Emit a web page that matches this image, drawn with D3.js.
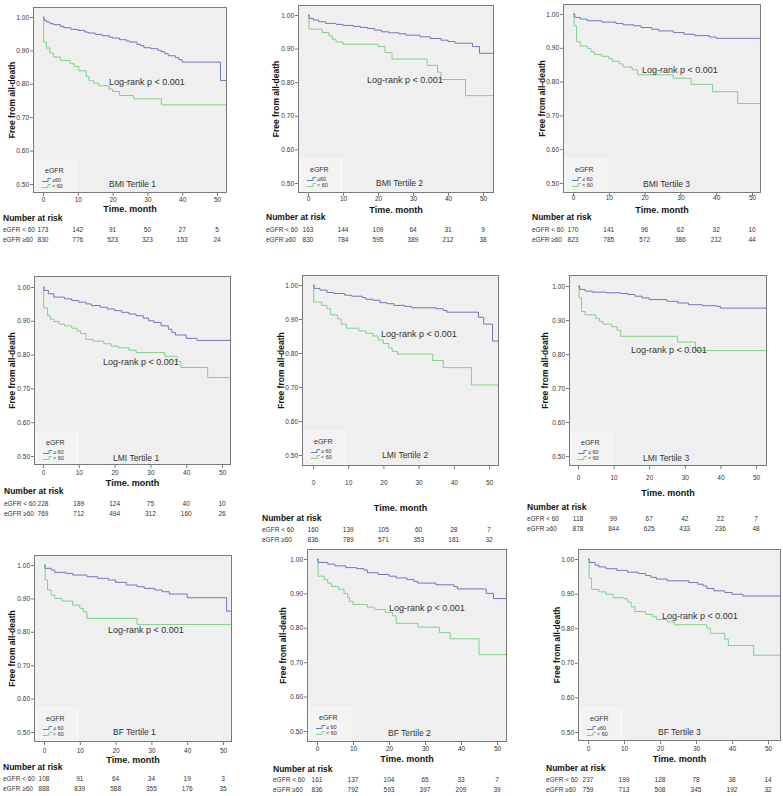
<!DOCTYPE html>
<html><head><meta charset="utf-8">
<script src="https://cdn.jsdelivr.net/npm/d3@7"></script>
<style>
body{margin:0;background:#fff;}
svg{display:block;font-family:"Liberation Sans",Arial,sans-serif;}
</style></head>
<body><svg id="c" width="783" height="796"></svg>
<script>
// ---------- DATA ----------
const panelTitles = ["BMI Tertile 1","BMI Tertile 2","BMI Tertile 3","LMI Tertile 1","LMI Tertile 2","LMI Tertile 3","BF Tertile 1","BF Tertile 2","BF Tertile 3"];
const xTicks = [0,10,20,30,40,50];
const yTicks = [0.5,0.6,0.7,0.8,0.9,1.0];
const legendHiLabels = ["≥60","≥60","≥ 60","≥ 60","≥ 60","≥ 60","≥ 60","≥ 60","≥60"];
const rowLabels = ["eGFR < 60","eGFR ≥60"];

// survival steps [month, survival], eGFR >= 60 (blue)
const bmi1Hi = [[0,1],[0.3,0.99],[1,0.985],[2,0.98],[3,0.977],[5,0.972],[6,0.968],[8,0.963],[10,0.96],[12,0.955],[13,0.952],[15,0.948],[17,0.944],[19,0.94],[20,0.937],[22,0.932],[24,0.928],[25,0.925],[27,0.918],[28,0.914],[29,0.908],[31,0.905],[33,0.9],[34,0.896],[35,0.89],[36,0.884],[38,0.878],[39,0.872],[40,0.865],[51,0.81]];
const bmi2Hi = [[0,1],[0.3,0.99],[1.5,0.985],[3,0.98],[5,0.975],[8,0.972],[10,0.969],[13,0.966],[15,0.963],[17,0.96],[19,0.955],[21,0.95],[23,0.947],[26,0.944],[28,0.94],[32,0.935],[35,0.93],[38,0.925],[40,0.921],[42,0.916],[47,0.906],[49,0.886]];
const bmi3Hi = [[0,1],[0.5,0.99],[2,0.985],[4,0.98],[8,0.976],[12,0.972],[14,0.968],[17,0.965],[19,0.96],[22,0.955],[24,0.95],[28,0.945],[31,0.94],[34,0.936],[38,0.932],[40,0.928]];
const lmi1Hi = [[0,1],[0.3,0.99],[1.5,0.98],[3,0.97],[6,0.965],[8,0.96],[10,0.955],[12,0.95],[13.5,0.945],[16,0.94],[18,0.935],[20,0.93],[22,0.925],[24,0.92],[26,0.915],[28,0.908],[29.5,0.9],[31,0.895],[33,0.885],[35,0.875],[36,0.865],[37,0.858],[40,0.848],[43,0.842]];
const lmi2Hi = [[0,1],[0.3,0.99],[2,0.985],[4,0.978],[6,0.975],[9,0.97],[11,0.967],[14,0.963],[15,0.958],[17,0.955],[19,0.948],[21,0.945],[23,0.94],[26,0.937],[28,0.933],[35,0.93],[37,0.925],[38,0.92],[47,0.905],[48.5,0.885],[51,0.835]];
const lmi3Hi = [[0,1],[0.5,0.99],[2,0.985],[4,0.982],[8,0.98],[12,0.978],[14,0.975],[16,0.97],[18,0.965],[20,0.96],[25,0.955],[28,0.95],[31,0.945],[35,0.942],[39,0.94],[40,0.935]];
const bf1Hi = [[0,1],[0.3,0.99],[2,0.985],[3,0.978],[6,0.975],[8,0.97],[12,0.965],[15,0.96],[18,0.955],[20,0.948],[23,0.94],[26,0.935],[28,0.93],[31,0.925],[33,0.92],[35,0.913],[40,0.902],[51,0.862]];
const bf2Hi = [[0,1],[0.3,0.99],[3,0.985],[5,0.98],[8,0.975],[11,0.972],[13,0.968],[14,0.96],[17,0.955],[20,0.95],[22,0.945],[25,0.94],[27,0.935],[28,0.93],[33,0.925],[38,0.92],[39,0.913],[47,0.9],[49,0.885]];
const bf3Hi = [[0,1],[0.3,0.99],[2,0.982],[3,0.977],[5,0.972],[8,0.967],[11,0.962],[14,0.958],[16,0.952],[17.5,0.947],[19,0.942],[22,0.937],[28,0.932],[30.5,0.927],[32,0.922],[33,0.915],[35,0.908],[38,0.903],[40,0.898],[43,0.893]];

// eGFR < 60 (green)
const bmi1Lo = [[0,1],[0.2,0.925],[1,0.907],[2,0.892],[3,0.88],[5,0.87],[7.8,0.86],[9,0.852],[10.3,0.839],[12.4,0.822],[13.2,0.809],[14.5,0.802],[16,0.794],[19,0.784],[20,0.777],[22,0.765],[26,0.755],[34,0.737]];
const bmi2Lo = [[0,1],[0.3,0.958],[4,0.948],[6,0.938],[7,0.928],[8,0.92],[10,0.913],[20,0.906],[22,0.888],[24,0.869],[34,0.85],[37,0.83],[38,0.808],[45,0.76]];
const bmi3Lo = [[0,1],[0.3,0.965],[1,0.918],[2,0.905],[4,0.898],[5,0.888],[6,0.88],[8,0.875],[10,0.868],[11,0.86],[13,0.852],[14,0.843],[16.5,0.835],[18,0.82],[28,0.81],[33,0.792],[39,0.77],[46,0.735]];
const lmi1Lo = [[0,1],[0.2,0.938],[1.3,0.915],[2,0.905],[3,0.898],[4.5,0.89],[6,0.885],[8,0.878],[9.5,0.87],[10.5,0.862],[12,0.845],[14,0.84],[17,0.832],[19,0.825],[21,0.82],[24,0.813],[26,0.806],[34,0.795],[37.5,0.78],[38.5,0.762],[46,0.732]];
const lmi2Lo = [[0,1],[0.2,0.95],[2.5,0.94],[4,0.93],[5,0.912],[7,0.9],[8,0.885],[9.5,0.873],[13,0.865],[15,0.858],[17,0.85],[18.5,0.838],[20,0.828],[21.5,0.815],[22.5,0.805],[24,0.797],[34,0.778],[37,0.757],[45,0.706]];
const lmi3Lo = [[0,1],[0.3,0.965],[1,0.925],[2,0.915],[5,0.905],[6,0.896],[7,0.888],[9.5,0.88],[11,0.87],[12,0.852],[28,0.835],[33,0.81]];
const bf1Lo = [[0,1],[0.3,0.955],[1,0.925],[2,0.91],[3,0.9],[5,0.892],[8,0.88],[10,0.87],[11,0.86],[12,0.84],[26,0.822]];
const bf2Lo = [[0,1],[0.3,0.95],[2,0.94],[3,0.93],[4,0.92],[6,0.912],[7.5,0.9],[8.5,0.888],[9,0.877],[10,0.868],[14,0.86],[16,0.853],[19,0.845],[21,0.835],[22,0.813],[28,0.802],[34,0.786],[37,0.768],[45,0.722]];
const bf3Lo = [[0,1],[0.3,0.945],[1,0.912],[3,0.905],[5,0.898],[7,0.888],[10,0.885],[11,0.876],[12,0.862],[13,0.848],[16,0.84],[18,0.833],[19,0.825],[22,0.818],[24,0.81],[33,0.8],[34,0.785],[38,0.768],[39,0.75],[46,0.722]];

// numbers at risk at months 0,10,20,30,40,50
const riskLo = [[173,142,91,50,27,5],[163,144,109,64,31,9],[170,141,96,62,32,10],[228,189,124,75,40,10],[160,139,105,60,28,7],[118,99,67,42,22,7],[108,91,64,34,19,3],[161,137,104,65,33,7],[237,199,128,78,38,14]];
const riskHi = [[830,776,523,323,153,24],[830,784,595,389,212,38],[823,785,572,386,212,44],[769,712,494,312,160,26],[836,789,571,353,181,32],[878,844,625,433,236,48],[888,839,588,355,176,35],[836,792,593,397,209,39],[759,713,508,345,192,32]];

const seriesHi = [bmi1Hi,bmi2Hi,bmi3Hi,lmi1Hi,lmi2Hi,lmi3Hi,bf1Hi,bf2Hi,bf3Hi];
const seriesLo = [bmi1Lo,bmi2Lo,bmi3Lo,lmi1Lo,lmi2Lo,lmi3Lo,bf1Lo,bf2Lo,bf3Lo];

// ---------- LAYOUT (pixels) ----------
const layout = [
 {L:33,T:7,R:227,B:193,x0:43,x50:217,y1:17,y05:184,tl:202,tt:212,nar:221,r1:232,r2:242,lx:3,lrx:109,lry:85,tix:109,tiy:187,yt:12},
 {L:298,T:5,R:494,B:193,x0:308,x50:483,y1:15,y05:183,tl:201,tt:213,nar:220,r1:232,r2:242,lx:266,lrx:367,lry:83,tix:376,tiy:186,yt:276},
 {L:563,T:4,R:761,B:193,x0:573,x50:752,y1:14,y05:183,tl:200,tt:213,nar:220,r1:232,r2:242,lx:532,lrx:642,lry:73,tix:643,tiy:187,yt:542},
 {L:34,T:276,R:231,B:465,x0:43,x50:222,y1:287,y05:456,tl:475,tt:486,nar:494,r1:506,r2:516,lx:4,lrx:103,lry:365,tix:113,tiy:461,yt:12},
 {L:302,T:275,R:499,B:466,x0:313,x50:489,y1:285,y05:455,tl:485,tt:511,nar:521,r1:532,r2:542,lx:262,lrx:381,lry:337,tix:382,tiy:458,yt:281},
 {L:569,T:275,R:767,B:466,x0:578,x50:756,y1:286,y05:456,tl:480,tt:496,nar:510,r1:521,r2:531,lx:527,lrx:631,lry:353,tix:643,tiy:461,yt:545},
 {L:34,T:555,R:232,B:742,x0:44,x50:223,y1:565,y05:732,tl:753,tt:763,nar:770,r1:781,r2:791,lx:3,lrx:108,lry:633,tix:113,tiy:735,yt:12},
 {L:307,T:549,R:507,B:742,x0:317,x50:497,y1:559,y05:731,tl:751,tt:762,nar:772,r1:782,r2:792,lx:273,lrx:389,lry:611,tix:388,tiy:736,yt:283},
 {L:578,T:549,R:781,B:741,x0:588,x50:768,y1:559,y05:732,tl:751,tt:762,nar:771,r1:782,r2:792,lx:546,lrx:662,lry:619,tix:658,tiy:735,yt:557}
];

const BLUE = "#7177bd", GREEN = "#84cf8c", AX = "#7a7a7a", TXT = "#333";
const svg = d3.select("#c");

layout.forEach((p, i) => {
  const g = svg.append("g");
  const x = d3.scaleLinear().domain([0,50]).range([p.x0,p.x50]);
  const y = d3.scaleLinear().domain([0.5,1]).range([p.y05,p.y1]);
  const xmax = x.invert(p.R);

  g.append("rect").attr("x",p.L).attr("y",p.T).attr("width",p.R-p.L).attr("height",p.B-p.T)
    .attr("fill","#efefef");

  // legend box
  g.append("rect").attr("x",p.L+2).attr("y",p.y05-24).attr("width",42).attr("height",p.B-(p.y05-24)-1)
    .attr("fill","#f3f3f3").attr("stroke","#fafafa").attr("stroke-width",1);

  const clipId = "clip"+i;
  svg.append("clipPath").attr("id",clipId).append("rect")
    .attr("x",p.L).attr("y",p.T).attr("width",p.R-p.L).attr("height",p.B-p.T);

  const line = d3.line().x(d=>x(d[0])).y(d=>y(d[1])).curve(d3.curveStepAfter);
  const ext = s => s.concat([[xmax, s[s.length-1][1]]]);
  g.append("path").attr("d",line(ext(seriesLo[i]))).attr("fill","none").attr("stroke",GREEN)
    .attr("stroke-width",1).attr("clip-path",`url(#${clipId})`);
  g.append("path").attr("d",line(ext(seriesHi[i]))).attr("fill","none").attr("stroke",BLUE)
    .attr("stroke-width",1).attr("clip-path",`url(#${clipId})`);

  g.append("rect").attr("x",p.L+0.5).attr("y",p.T+0.5).attr("width",p.R-p.L-1).attr("height",p.B-p.T-1)
    .attr("fill","none").attr("stroke",AX).attr("stroke-width",1);

  // axes
  const ya = g.append("g").attr("transform",`translate(${p.L},0)`)
    .call(d3.axisLeft(y).tickValues(yTicks).tickFormat(d3.format(".2f")).tickSize(3).tickSizeOuter(0));
  ya.select(".domain").remove();
  ya.selectAll("line").attr("stroke",AX);
  ya.selectAll("text").attr("font-size",6.5).attr("fill",TXT).attr("x",-4);

  const xa = g.append("g").attr("transform",`translate(0,${p.B})`)
    .call(d3.axisBottom(x).tickValues(xTicks).tickFormat(d3.format("d")).tickSize(3).tickSizeOuter(0));
  xa.select(".domain").remove();
  xa.selectAll("line").attr("stroke",AX);
  xa.selectAll("text").attr("font-size",6.5).attr("fill",TXT).attr("y",null).attr("dy",null)
    .attr("transform",`translate(0,${p.tl-p.B})`);

  // axis titles
  g.append("text").attr("x",(p.L+p.R)/2).attr("y",p.tt).attr("text-anchor","middle")
    .attr("font-size",9).attr("font-weight","bold").attr("fill","#111").text("Time. month");
  g.append("text").attr("transform",`translate(${p.yt+3},${(p.T+p.B)/2}) rotate(-90)`)
    .attr("text-anchor","middle").attr("font-size",8.5).attr("font-weight","bold").attr("fill","#111")
    .text("Free from all-death");

  // annotations
  g.append("text").attr("x",p.lrx).attr("y",p.lry).attr("font-size",9).attr("fill",TXT).text("Log-rank p < 0.001");
  g.append("text").attr("x",p.tix).attr("y",p.tiy).attr("font-size",8.5).attr("fill",TXT).text(panelTitles[i]);

  // legend
  const lx = p.L+9, ly = p.y05;
  g.append("text").attr("x",lx+3).attr("y",ly-11).attr("font-size",7).attr("fill",TXT).text("eGFR");
  const sym = (yy,c) => g.append("path").attr("d",`M${lx},${yy+1.5}H${lx+6}V${yy-1.5}H${lx+9}`)
     .attr("fill","none").attr("stroke",c).attr("stroke-width",1);
  sym(ly-4,BLUE); sym(ly+2,GREEN);
  g.append("text").attr("x",lx+10).attr("y",ly-2).attr("font-size",5.5).attr("fill",TXT).text(legendHiLabels[i]);
  g.append("text").attr("x",lx+10).attr("y",ly+4).attr("font-size",5.5).attr("fill",TXT).text("< 60");

  // risk table
  g.append("text").attr("x",p.lx).attr("y",p.nar).attr("font-size",8.5).attr("font-weight","bold")
    .attr("fill","#111").text("Number at risk");
  [[riskLo[i],p.r1],[riskHi[i],p.r2]].forEach(([vals,yy],k)=>{
    g.append("text").attr("x",p.lx).attr("y",yy).attr("font-size",6.5).attr("fill",TXT).text(rowLabels[k]);
    g.selectAll(null).data(vals).enter().append("text")
      .attr("x",(d,j)=>x(xTicks[j])).attr("y",yy).attr("text-anchor","middle")
      .attr("font-size",6.5).attr("fill",TXT).text(d=>d);
  });
});
</script></body></html>
